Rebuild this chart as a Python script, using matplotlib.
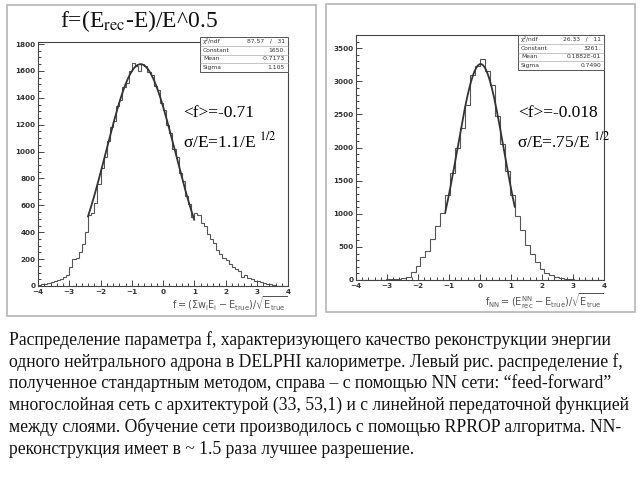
import numpy as np
import matplotlib

matplotlib.use("Agg")
import matplotlib.pyplot as plt
from matplotlib.patches import Rectangle
from matplotlib.ticker import MultipleLocator

plt.rcParams["mathtext.fontset"] = "stix"

# left histogram: standard reconstruction, 80 bins of 0.1 on [-4, 4]
left_edges = np.linspace(-4, 4, 81)
left_counts = [
    10, 15, 18, 22, 30, 40, 45, 55, 65, 80,
    140, 200, 205, 250, 315, 400, 530, 540, 620, 760,
    880, 960, 1080, 1180, 1230, 1340, 1380, 1480, 1510, 1600,
    1660, 1640, 1600, 1650, 1640, 1590, 1570, 1490, 1460, 1360,
    1310, 1200, 1140, 1020, 960, 840, 780, 670, 610, 510,
    545, 530, 470, 450, 390, 350, 320, 270, 240, 210,
    190, 160, 140, 130, 115, 70, 80, 60, 50, 40,
    35, 30, 25, 18, 12, 6, 3, 2, 1, 0,
]
left_fit = {"const": 1650.0, "mean": -0.7173, "sigma": 1.105, "lo": -2.4, "hi": 1.0}
left_stats = [("χ²/ndf", "87.57   /   31"), ("Constant", "1650."),
              ("Mean", "-0.7173"), ("Sigma", "1.105")]

# right histogram: NN reconstruction, 50 bins of 0.16 on [-4, 4]
right_edges = np.linspace(-4, 4, 51)
right_counts = [
    0, 0, 1, 2, 3, 4, 8, 12, 20, 30,
    50, 125, 210, 350, 435, 615, 810, 1010, 1290, 1610,
    2000, 2300, 2650, 3100, 3230, 3340, 3150, 2950, 2480, 2060,
    1640, 1280, 965, 750, 525, 390, 265, 165, 110, 70,
    40, 25, 15, 10, 6, 4, 2, 1, 0, 0,
]
right_fit = {"const": 3261.0, "mean": 0.01882, "sigma": 0.7490, "lo": -1.12, "hi": 1.12}
right_stats = [("χ²/ndf", "26.33   /   11"), ("Constant", "3261."),
               ("Mean", "0.1882E-01"), ("Sigma", "0.7490")]

caption = [
    "Распределение параметра f, характеризующего качество реконструкции энергии",
    "одного нейтрального адрона в DELPHI калориметре. Левый рис. распределение f,",
    "полученное стандартным методом, справа – с помощью NN сети: “feed-forward”",
    "многослойная сеть с архитектурой (33, 53,1) и с линейной передаточной функцией",
    "между слоями. Обучение сети производилось с помощью RPROP алгоритма. NN-",
    "реконструкция имеет в ~ 1.5 раза лучшее разрешение.",
]

W, H = 640, 480
fig = plt.figure(figsize=(6.4, 4.8), dpi=100)
fig.patch.set_facecolor("white")


def fx(px):
    return px / W


def fy(py):
    return 1 - py / H


def panel(box, edges, counts, fit, stats, ymax, ymajor, yminor, xlabel, label_gap, statbox):
    l, t, r, b = box
    ax = fig.add_axes([fx(l), fy(b), fx(r - l), (b - t) / H])
    ax.stairs(counts, edges, color="#555555", lw=0.8)
    xs = np.linspace(fit["lo"], fit["hi"], 200)
    ax.plot(xs, fit["const"] * np.exp(-0.5 * ((xs - fit["mean"]) / fit["sigma"]) ** 2),
            color="#333333", lw=1.3)
    ax.set_xlim(-4, 4)
    ax.set_ylim(0, ymax)
    ax.xaxis.set_major_locator(MultipleLocator(1))
    ax.xaxis.set_minor_locator(MultipleLocator(0.2))
    ax.yaxis.set_major_locator(MultipleLocator(ymajor))
    ax.yaxis.set_minor_locator(MultipleLocator(yminor))
    ax.tick_params(which="both", direction="in", colors="#444444", labelsize=5.2,
                   width=0.7, pad=2)
    ax.tick_params(which="major", length=4)
    ax.tick_params(which="minor", length=2)
    for lab in ax.get_xticklabels() + ax.get_yticklabels():
        lab.set_fontweight("bold")
        lab.set_color("#333333")
    for s in ax.spines.values():
        s.set_color("#444444")
        s.set_linewidth(0.8)
    fig.text(fx(r), fy(b + label_gap), xlabel, ha="right", va="center", fontsize=7,
             color="#555555", math_fontfamily="dejavusans")

    # fit statistics box
    sl, st, sr, sb = statbox
    fig.add_artist(Rectangle((fx(sl), fy(sb)), fx(sr - sl), (sb - st) / H,
                             transform=fig.transFigure, fill=True, facecolor="white",
                             edgecolor="#555555", lw=0.7))
    rowh = (sb - st) / len(stats)
    for i, (name, val) in enumerate(stats):
        yc = st + rowh * (i + 0.5)
        fig.text(fx(sl + 3), fy(yc), name, ha="left", va="center", fontsize=4.3,
                 color="#333333", family="DejaVu Sans")
        fig.text(fx(sr - 3), fy(yc), val, ha="right", va="center", fontsize=4.3,
                 color="#333333", family="DejaVu Sans")
        if i > 0:
            fig.add_artist(plt.Line2D([fx(sl), fx(sr)], [fy(st + rowh * i)] * 2,
                                      transform=fig.transFigure, color="#999999", lw=0.4))
    return ax


# outer gray frames
for l, t, r, b in [(7, 5, 316, 316), (326, 4, 635, 312)]:
    fig.add_artist(Rectangle((fx(l), fy(b)), fx(r - l), (b - t) / H,
                             transform=fig.transFigure, fill=False,
                             edgecolor="#b5b5b5", lw=1.2))

panel((38, 42, 288, 286), left_edges, left_counts, left_fit, left_stats, 1815, 200, 50,
      r"$\mathrm{f=(\Sigma w_i E_i - E_{true})/\sqrt{E_{true}}}$", 18, (200, 37, 288, 72))
panel((356, 35, 604, 280), right_edges, right_counts, right_fit, right_stats, 3700, 500, 100,
      r"$\mathrm{f_{NN}=(E^{NN}_{rec} - E_{true})/\sqrt{E_{true}}}$", 21, (518, 35, 604, 70))

serif = "Liberation Serif"
fig.text(fx(60), fy(27), r"f=(E$_{\mathrm{rec}}$-E)/E^0.5", fontsize=17, family=serif,
         va="baseline", ha="left", color="#111111")

fig.text(fx(183), fy(117), "<f>=-0.71", fontsize=12.5, family=serif, va="baseline")
fig.text(fx(183), fy(147), r"σ/E=1.1/E $^{1/2}$", fontsize=12.5, family=serif, va="baseline")
fig.text(fx(518), fy(117), "<f>=-0.018", fontsize=12.5, family=serif, va="baseline")
fig.text(fx(517), fy(147), r"σ/E=.75/E $^{1/2}$", fontsize=12.5, family=serif, va="baseline")

for i, line in enumerate(caption):
    fig.text(fx(9), fy(345 + 21.7 * i), line, fontsize=12.7, family=serif,
             va="baseline", ha="left", color="#111111")

fig.savefig("out.png", dpi=100)
